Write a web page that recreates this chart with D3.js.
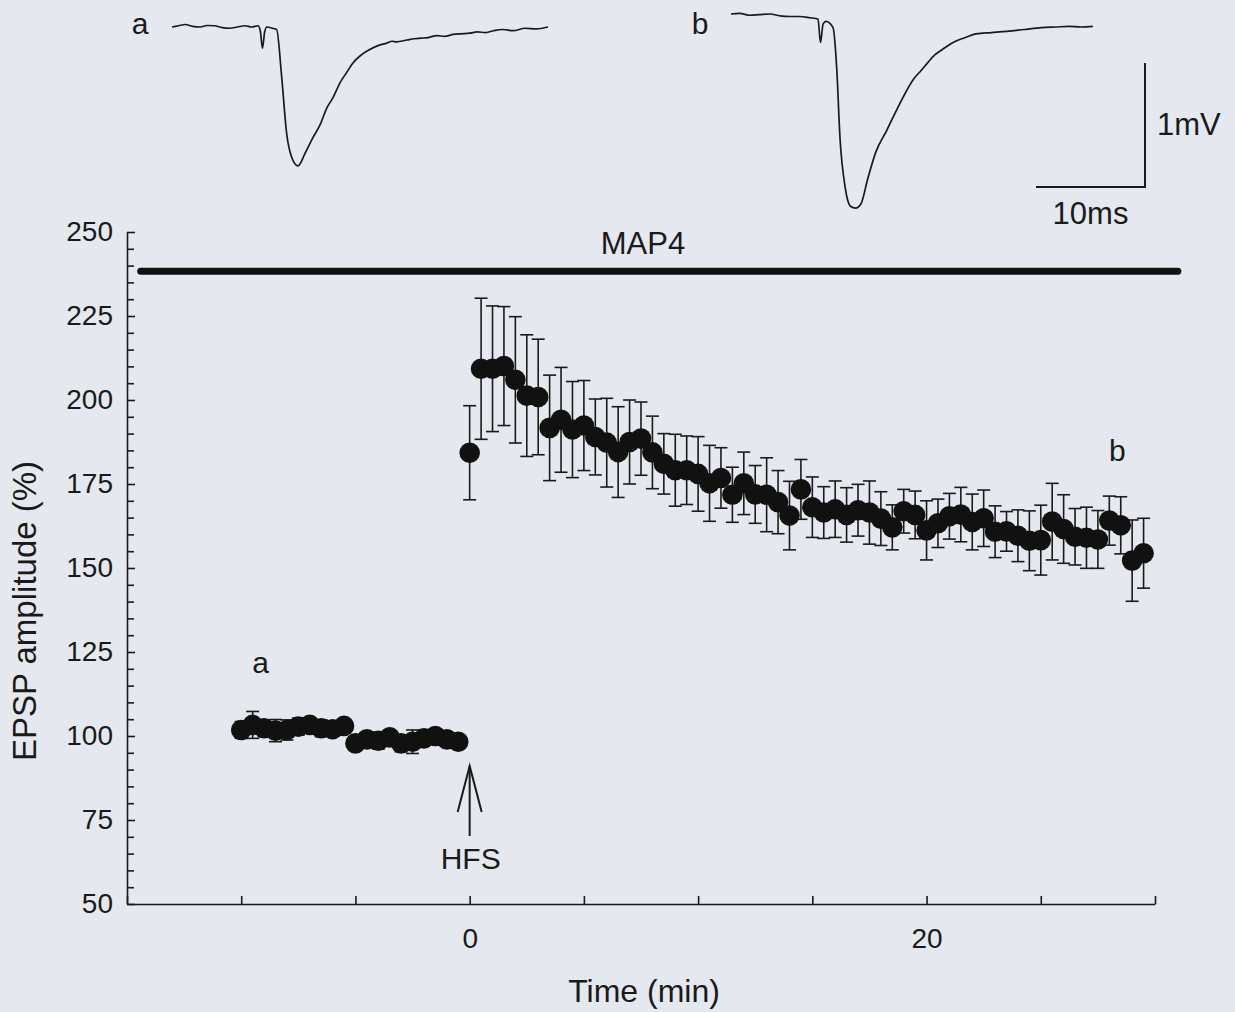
<!DOCTYPE html>
<html>
<head>
<meta charset="utf-8">
<script src="https://cdn.jsdelivr.net/npm/d3@7"></script>
<style>
  html, body { margin: 0; padding: 0; background: #e5e8ee; }
  svg { display: block; }
  text { font-family: "Liberation Sans", Arial, sans-serif; fill: #1a1a1a; }
</style>
</head>
<body>
<svg id="chart" width="1235" height="1012"></svg>
<script>
// ---------- DATA ----------
const baseTime = [-10,-9.5,-9,-8.5,-8,-7.5,-7,-6.5,-6,-5.5,-5,-4.5,-4,-3.5,-3,-2.5,-2,-1.5,-1,-0.5];
const baseMean = [101.8,103.3,102.3,101.6,101.8,102.8,103.3,102.3,102.0,103.0,
                  97.8,99.0,98.6,99.6,97.8,98.3,99.3,100.0,99.0,98.3];
const baseSE   = [2.5,4.0,2.5,3.3,3.0,2.5,2.0,2.5,2.0,2.0,
                  2.0,2.0,2.5,2.0,2.5,3.5,2.0,2.0,2.0,2.0];

const postTime = [0,0.5,1,1.5,2,2.5,3,3.5,4,4.5,5,5.5,6,6.5,7,7.5,8,8.5,9,9.5,
                  10,10.5,11,11.5,12,12.5,13,13.5,14,14.5,15,15.5,16,16.5,17,17.5,18,18.5,19,19.5,
                  20,20.5,21,21.5,22,22.5,23,23.5,24,24.5,25,25.5,26,26.5,27,27.5,28,28.5,29,29.5];
const postMean = [184.3,209.3,209.3,210.1,206.0,201.3,200.9,191.7,194.1,191.2,
                  192.4,189.0,187.3,184.5,187.5,188.5,184.4,181.0,179.1,179.1,
                  178.0,175.2,176.8,171.8,175.2,171.9,171.8,169.6,165.6,173.4,
                  168.1,166.5,167.5,165.8,167.2,166.5,164.7,162.1,166.9,165.8,
                  161.2,163.3,165.4,165.9,163.7,164.8,160.8,160.9,159.6,158.1,
                  158.3,163.8,161.6,159.3,159.0,158.5,164.1,162.7,152.2,154.4];
const postSE   = [14.0,21.0,18.7,17.7,18.8,18.1,17.2,15.7,15.6,14.3,
                  13.4,11.3,13.2,13.5,12.5,10.9,10.8,9.0,10.7,10.2,
                  11.1,11.3,9.0,8.2,9.3,8.6,11.0,9.4,10.2,8.9,
                  9.0,7.7,8.4,8.1,7.7,9.4,8.0,6.7,6.5,7.1,
                  8.8,7.2,6.8,8.1,8.3,8.4,7.7,5.9,7.7,8.9,
                  10.4,11.4,10.2,8.4,9.1,8.6,7.3,8.5,12.1,10.4];

const yTicks = [50,75,100,125,150,175,200,225,250];
const xTickLabels = [0,20];
const drugName = "MAP4";
const drugStart = -14.4, drugEnd = 31, drugLevel = 238.3;
const hfsTime = 0;

// example traces (ms, mV)
const traceA = [[0,0],[0.6,0.01],[1.2,0.02],[1.9,0.005],[2.6,0],[3.2,0.012],[3.9,0.01],[4.6,-0.005],
  [5.3,-0.01],[6.0,0.0],[6.7,0.01],[7.3,0.0],[7.9,0.01],[8.1,-0.03],
  [8.3,-0.17],[8.5,-0.04],[8.7,0.0],[9.2,-0.01],[9.6,-0.02],[10.06,-0.40],[10.52,-0.86],[10.98,-1.05],
  [11.56,-1.12],[12.2,-1.02],[12.94,-0.89],[13.58,-0.79],[14.22,-0.65],[14.77,-0.57],[15.41,-0.45],
  [16.0,-0.37],[16.6,-0.29],[17.3,-0.23],[17.98,-0.19],[18.9,-0.15],[19.72,-0.13],[20.2,-0.115],
  [20.6,-0.12],[21.56,-0.105],[22.2,-0.095],[22.9,-0.09],[23.5,-0.085],[24.3,-0.07],[25.0,-0.075],
  [25.8,-0.06],[26.5,-0.055],[27.34,-0.05],[28.0,-0.04],[28.8,-0.045],[29.5,-0.03],[30.37,-0.02],
  [31.3,-0.03],[32.4,-0.01],[33.4,-0.015],[34.5,0]];
const traceB = [[0,0],[0.8,0.005],[1.74,-0.01],[2.6,-0.005],[3.58,0],[4.5,-0.015],[5.41,-0.02],
  [6.3,-0.02],[7.25,-0.03],[7.98,-0.04],[8.21,-0.23],
  [8.45,-0.08],[8.72,-0.06],[9.36,-0.11],[9.70,-0.44],[10.0,-1.0],[10.46,-1.39],[10.96,-1.55],
  [11.43,-1.565],[11.93,-1.53],[12.54,-1.33],[13.3,-1.11],[14.28,-0.94],[15.5,-0.72],[16.79,-0.52],
  [17.4,-0.46],[18.07,-0.39],[18.7,-0.33],[19.33,-0.29],[20.0,-0.25],[20.6,-0.22],[21.5,-0.19],
  [22.48,-0.16],[23.9,-0.15],[25.32,-0.14],[26.9,-0.125],[28.5,-0.11],[29.8,-0.105],[31.0,-0.10],
  [32.1,-0.105],[33.2,-0.10]];
const scaleBarMs = 10, scaleBarMV = 1;

// ---------- LAYOUT ----------
const svg = d3.select("#chart");
const ink = "#1a1a1a";
svg.append("rect").attr("width",1235).attr("height",1012).attr("fill","#e5e8ee");

const x = d3.scaleLinear().domain([-15,30]).range([127,1155]);
const y = d3.scaleLinear().domain([50,250]).range([904,232]);

// Y axis
const yAxis = d3.axisLeft(y)
  .tickValues(d3.range(50,251,5))
  .tickSizeInner(-7).tickSizeOuter(0).tickPadding(14)
  .tickFormat(d => yTicks.includes(d) ? d : "");
const gy = svg.append("g").attr("transform","translate(127,0)").call(yAxis);
gy.selectAll("text").style("font-size","28px").attr("fill",ink);
gy.selectAll("line,path").attr("stroke",ink).attr("stroke-width",1.6);
gy.selectAll(".tick line").attr("x2", d => yTicks.includes(d) ? 8 : 7);

// X axis
const xAxis = d3.axisBottom(x)
  .tickValues(d3.range(-15,31,5))
  .tickSizeInner(-8).tickSizeOuter(0).tickPadding(24)
  .tickFormat(d => xTickLabels.includes(d) ? d : "");
const gx = svg.append("g").attr("transform","translate(0,904)").call(xAxis);
gx.selectAll("text").style("font-size","28px").attr("fill",ink);
gx.selectAll("line,path").attr("stroke",ink).attr("stroke-width",1.6);

// axis titles
svg.append("text").attr("transform","translate(36,611) rotate(-90)")
  .attr("text-anchor","middle").style("font-size","33px").text("EPSP amplitude (%)");
svg.append("text").attr("x",644).attr("y",1002)
  .attr("text-anchor","middle").style("font-size","32px").text("Time (min)");

// MAP4 bar
svg.append("line").attr("x1",x(drugStart)).attr("x2",x(drugEnd))
  .attr("y1",y(drugLevel)).attr("y2",y(drugLevel))
  .attr("stroke","#111").attr("stroke-width",7).attr("stroke-linecap","round");
svg.append("text").attr("x",643).attr("y",254).attr("text-anchor","middle")
  .style("font-size","31px").text(drugName);

// data
const pts = baseTime.map((t,i)=>({t, m: baseMean[i], se: baseSE[i]}))
  .concat(postTime.map((t,i)=>({t, m: postMean[i], se: postSE[i]})));
const capW = 6.5;
const eb = svg.append("g").attr("stroke",ink).attr("stroke-width",1.6);
pts.forEach(p => {
  const cx = x(p.t), y1 = y(p.m + p.se), y2 = y(p.m - p.se);
  eb.append("line").attr("x1",cx).attr("x2",cx).attr("y1",y1).attr("y2",y2);
  eb.append("line").attr("x1",cx-capW).attr("x2",cx+capW).attr("y1",y1).attr("y2",y1);
  eb.append("line").attr("x1",cx-capW).attr("x2",cx+capW).attr("y1",y2).attr("y2",y2);
});
svg.append("g").selectAll("circle").data(pts).join("circle")
  .attr("cx", d=>x(d.t)).attr("cy", d=>y(d.m)).attr("r",10.3).attr("fill","#111");

// labels a, b
svg.append("text").attr("x",x(-9.15)).attr("y",673).attr("text-anchor","middle")
  .style("font-size","30px").text("a");
svg.append("text").attr("x",x(28.35)).attr("y",461).attr("text-anchor","middle")
  .style("font-size","30px").text("b");

// HFS arrow
const ax = x(hfsTime);
const arr = svg.append("g").attr("stroke",ink).attr("stroke-width",2).attr("fill","none");
arr.append("line").attr("x1",ax).attr("x2",ax).attr("y1",766).attr("y2",836);
arr.append("polyline").attr("points",`${ax-12},812 ${ax},766 ${ax+12},812`);
svg.append("text").attr("x",ax+1).attr("y",869).attr("text-anchor","middle")
  .style("font-size","30px").text("HFS");

// traces
const msScale = d3.scaleLinear().domain([0,10]).range([0,109]);
const mvScale = d3.scaleLinear().domain([0,-1]).range([0,124]);
const lineGen = d3.line().x(d=>msScale(d[0])).y(d=>mvScale(d[1])).curve(d3.curveMonotoneX);
svg.append("path").attr("transform","translate(172,27)").attr("d",lineGen(traceA))
  .attr("fill","none").attr("stroke",ink).attr("stroke-width",1.7).attr("stroke-linejoin","round");
svg.append("path").attr("transform","translate(731,14)").attr("d",lineGen(traceB))
  .attr("fill","none").attr("stroke",ink).attr("stroke-width",1.7).attr("stroke-linejoin","round");
svg.append("text").attr("x",140).attr("y",34).attr("text-anchor","middle").style("font-size","30px").text("a");
svg.append("text").attr("x",700).attr("y",34).attr("text-anchor","middle").style("font-size","30px").text("b");

// scale bar
const sbx = 1145, sby = 187;
const sb = svg.append("g").attr("stroke",ink).attr("stroke-width",2).attr("fill","none");
sb.append("polyline").attr("points",
  `${sbx-msScale(scaleBarMs)},${sby} ${sbx},${sby} ${sbx},${sby-mvScale(-scaleBarMV)}`);
svg.append("text").attr("x",1157).attr("y",135).style("font-size","31px").text("1mV");
svg.append("text").attr("x",sbx-msScale(scaleBarMs)/2).attr("y",224).attr("text-anchor","middle")
  .style("font-size","31px").text("10ms");
</script>
</body>
</html>
